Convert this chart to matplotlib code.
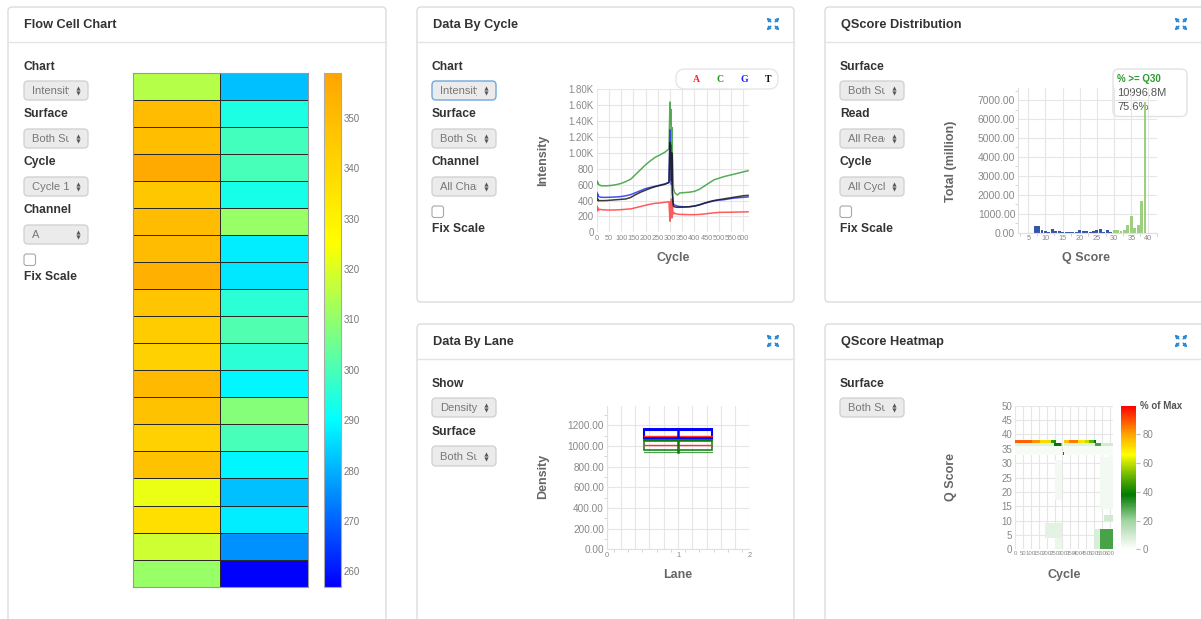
import numpy as np
import matplotlib.pyplot as plt
from matplotlib.patches import FancyBboxPatch, Rectangle
from matplotlib.colors import LinearSegmentedColormap
from matplotlib.ticker import FuncFormatter, MultipleLocator
from matplotlib.transforms import Bbox, TransformedBbox

plt.rcParams['font.family'] = ['Liberation Sans', 'DejaVu Sans']

# ---- flow cell tile intensities (two surfaces x 19 swaths) ----
tile_left = [315, 350, 349, 357, 346, 350, 350, 355, 347, 344, 342, 351, 348, 342, 348, 322, 337, 318, 311]
tile_right = [282, 294, 299, 300, 293, 311, 288, 287, 296, 301, 296, 289, 308, 300, 289, 282, 288, 276, 257]

# ---- intensity by cycle, per channel ----
cycles = [1, 3, 5, 8, 12, 20, 40, 60, 80, 100, 120, 140, 160, 180, 200, 220, 240, 260, 280, 296,
          300, 302, 304, 306, 308, 310, 312, 314, 318, 322, 330, 340, 360, 380, 400, 420, 440, 460,
          480, 500, 520, 540, 560, 580, 600, 620]
int_a = [330, 270, 310, 280, 290, 285, 280, 280, 282, 285, 290, 295, 310, 325, 340, 355, 365, 370,
         378, 385, 140, 380, 200, 420, 180, 400, 250, 230, 245, 235, 228, 226, 224, 222, 222, 225,
         230, 238, 245, 250, 252, 252, 254, 255, 256, 258]
int_c = [645, 610, 630, 600, 595, 585, 585, 590, 600, 615, 640, 670, 730, 790, 850, 900, 945, 975,
         1010, 1050, 1640, 1350, 1550, 1050, 1320, 980, 800, 560, 510, 490, 470, 495, 500, 505, 515,
         540, 580, 620, 660, 680, 700, 715, 730, 745, 760, 775]
int_g = [500, 460, 480, 450, 445, 440, 440, 442, 445, 450, 460, 475, 500, 525, 550, 565, 580, 595,
         610, 625, 1290, 900, 1100, 600, 950, 500, 420, 360, 345, 340, 330, 325, 320, 322, 330, 345,
         365, 380, 395, 405, 410, 420, 430, 435, 440, 445]
int_t = [450, 400, 420, 395, 400, 398, 400, 405, 410, 415, 420, 440, 475, 505, 530, 555, 575, 590,
         605, 630, 1130, 800, 1000, 650, 1000, 500, 380, 330, 320, 318, 315, 315, 318, 322, 330, 345,
         365, 385, 400, 410, 420, 430, 440, 450, 460, 465]

# ---- q-score histogram (millions of bases) ----
q_scores = list(range(7, 40))
q_totals = [330, 350, 150, 100, 60, 170, 90, 70, 20, 30, 40, 60, 40, 130, 70, 90, 50, 110, 150,
            170, 30, 150, 40, 150, 120, 100, 160, 420, 870, 240, 430, 1680, 6900]

# ---- density by lane: (lo, q1, median, q3, hi) ----
lane_raw = [1068, 1075, 1100, 1158, 1162]
lane_pf = [942, 960, 1005, 1048, 1057]

# ---- q-score heatmap blocks: (cycle_from, cycle_to, q_from, q_to, % of max) ----
heat_blocks = [
    (0, 300, 33, 36, 2), (311, 618, 33, 36, 2),
    (0, 245, 36, 37, 7), (311, 505, 36, 37, 7), (545, 618, 36, 37, 9),
    (2, 110, 37, 38, 88), (110, 160, 37, 38, 82), (160, 200, 37, 38, 72), (200, 230, 37, 38, 62),
    (230, 245, 37, 38, 45), (245, 260, 37, 38, 35), (245, 290, 36, 37, 38), (290, 300, 36, 37, 25),
    (311, 340, 37, 38, 75), (340, 400, 37, 38, 85), (400, 440, 37, 38, 70), (440, 470, 37, 38, 60),
    (470, 500, 37, 38, 50), (500, 515, 37, 38, 38), (505, 545, 36, 37, 30),
    (0, 3, 33, 34, 100), (304, 311, 33, 34, 100),
    (190, 300, 4, 9, 6), (250, 300, 0, 4, 4),
    (500, 540, 0, 7, 8), (540, 618, 0, 7, 30), (560, 618, 10, 12, 10),
    (540, 618, 14, 32, 3), (250, 300, 17, 31, 3),
]

W, H = 1201, 619
fig = plt.figure(figsize=(W / 100, H / 100), dpi=100)
fig.patch.set_facecolor('white')


def px_axes(x0, y0, x1, y1):
    return fig.add_axes([x0 / W, 1 - y1 / H, (x1 - x0) / W, (y1 - y0) / H])


bg = fig.add_axes([0, 0, 1, 1])
bg.set_xlim(0, W)
bg.set_ylim(H, 0)
bg.axis('off')

TXT = '#333333'
AXL = '#666666'
TCK = '#888888'


def panel(x0, y0, x1, y1, title, sep):
    bg.add_patch(FancyBboxPatch((x0, y0), x1 - x0, y1 - y0, boxstyle='round,pad=0,rounding_size=4',
                                fc='white', ec='#dcdcdc', lw=1))
    bg.plot([x0, x1], [sep, sep], color='#e4e4e4', lw=1)
    bg.text(x0 + 16, (y0 + sep) / 2 + 0.5, title, fontsize=9.2, fontweight='bold', color=TXT,
            va='center', ha='left')


def label(x, y, s):
    bg.text(x, y, s, fontsize=8.7, fontweight='bold', color=TXT, va='center', ha='left')


def select(x0, y0, x1, y1, s, focused=False):
    bg.add_patch(FancyBboxPatch((x0, y0), x1 - x0, y1 - y0, boxstyle='round,pad=0,rounding_size=4',
                                fc='#ebebeb', ec='#6fa8e0' if focused else '#d2d2d2', lw=1))
    cy = (y0 + y1) / 2
    t = bg.text(x0 + 8, cy + 0.5, s, fontsize=8, color='#777777', va='center', ha='left')
    # long option names are cut off before the arrows
    t.set_clip_on(True)
    t.set_clip_box(TransformedBbox(Bbox([[x0, y0], [x1 - 19, y1]]), bg.transData))
    bg.plot(x1 - 10, cy - 2.5, marker='^', ms=3, color='#555555', mew=0)
    bg.plot(x1 - 10, cy + 2.5, marker='v', ms=3, color='#555555', mew=0)


def checkbox(x, y):
    bg.add_patch(FancyBboxPatch((x, y), 11.5, 11.5, boxstyle='round,pad=0,rounding_size=2.5',
                                fc='white', ec='#a8a8a8', lw=0.8))


def expand_icon(cx, cy, s=6.5):
    for dx, dy in [(-1, -1), (1, -1), (-1, 1), (1, 1)]:
        bg.annotate('', xy=(cx + dx * s, cy + dy * s), xytext=(cx + dx * 2.2, cy + dy * 2.2),
                    arrowprops=dict(arrowstyle='-|>', color='#2b8ad8', lw=1.1,
                                    mutation_scale=5, shrinkA=0, shrinkB=0))


# panels
panel(8, 7, 386, 650, 'Flow Cell Chart', 42)
panel(417, 7, 794, 302, 'Data By Cycle', 42)
panel(825, 7, 1215, 302, 'QScore Distribution', 42)
panel(417, 324, 794, 650, 'Data By Lane', 359)
panel(825, 324, 1215, 650, 'QScore Heatmap', 359)
for cx, cy in [(773, 24), (1181, 24), (773, 341), (1181, 341)]:
    expand_icon(cx, cy)

# flow cell controls
label(24, 67, 'Chart'); select(24, 81, 88, 100, 'Intensity')
label(24, 114, 'Surface'); select(24, 129, 88, 148, 'Both Surfaces')
label(24, 162, 'Cycle'); select(24, 177, 88, 196, 'Cycle 1')
label(24, 210, 'Channel'); select(24, 225, 88, 244, 'A')
checkbox(24, 254); label(24, 277, 'Fix Scale')

# data by cycle controls
label(432, 67, 'Chart'); select(432, 81, 496, 100, 'Intensity', focused=True)
label(432, 114, 'Surface'); select(432, 129, 496, 148, 'Both Surfaces')
label(432, 162, 'Channel'); select(432, 177, 496, 196, 'All Channels')
checkbox(432, 206); label(432, 229, 'Fix Scale')

# q-score distribution controls
label(840, 67, 'Surface'); select(840, 81, 904, 100, 'Both Surfaces')
label(840, 114, 'Read'); select(840, 129, 904, 148, 'All Reads')
label(840, 162, 'Cycle'); select(840, 177, 904, 196, 'All Cycles')
checkbox(840, 206); label(840, 229, 'Fix Scale')

# lane controls
label(432, 384, 'Show'); select(432, 398, 496, 417, 'Density')
label(432, 432, 'Surface'); select(432, 446, 496, 466, 'Both Surfaces')

# heatmap controls
label(840, 384, 'Surface'); select(840, 398, 904, 417, 'Both Surfaces')


def grid_axes(ax):
    ax.set_facecolor('none')
    for s in ax.spines.values():
        s.set_visible(False)
    ax.grid(True, which='major', color='#e6e6e6', lw=0.8)
    ax.set_axisbelow(True)
    ax.tick_params(colors=TCK, length=0, pad=2)


# ---- flow cell heatmap ----
fc_cmap = LinearSegmentedColormap.from_list(
    'fc', [(0.0, '#0000ff'), (33 / 102, '#00ffff'), (68 / 102, '#ffff00'), (1.0, '#ffa500')])
ax_fc = px_axes(133, 72.5, 307.5, 586.7)
tiles = np.column_stack([tile_left, tile_right])
mesh = ax_fc.pcolormesh(tiles, cmap=fc_cmap, vmin=257, vmax=359, edgecolors='#2a2a2a', lw=0.7)
ax_fc.set_ylim(len(tile_left), 0)
ax_fc.set_xticks([])
ax_fc.set_yticks([])
for s in ax_fc.spines.values():
    s.set_color('#999999')
cax = px_axes(324, 72.5, 341, 586.5)
cb = fig.colorbar(mesh, cax=cax, ticks=range(260, 351, 10))
cb.outline.set_edgecolor('#aaaaaa')
cb.outline.set_linewidth(0.8)
cax.tick_params(length=0, labelsize=7, labelcolor='#777777', pad=2)

# ---- data by cycle ----
ax_c = px_axes(596.7, 89.3, 749.3, 232.3)
grid_axes(ax_c)
for vals, col in [(int_a, '#ff4040'), (int_c, '#3a9e3a'), (int_g, '#2233ee'), (int_t, '#1a1a1a')]:
    ax_c.plot(cycles, vals, color=col, lw=1.1, alpha=0.85)
ax_c.set_xlim(0, 625)
ax_c.set_ylim(0, 1800)
ax_c.set_xticks(range(0, 601, 50))
ax_c.set_yticks(range(0, 1801, 200))
ax_c.yaxis.set_major_formatter(FuncFormatter(lambda v, p: f'{v / 1000:.2f}K' if v >= 1000 else f'{v:.0f}'))
ax_c.tick_params(axis='x', labelsize=5.3)
ax_c.tick_params(axis='y', labelsize=7)
bg.text(542.7, 160, 'Intensity', rotation=90, fontsize=9, fontweight='bold', color=AXL, ha='center', va='center')
bg.text(673, 258.3, 'Cycle', fontsize=9, fontweight='bold', color=AXL, ha='center', va='center')
bg.add_patch(FancyBboxPatch((676, 69), 102, 20, boxstyle='round,pad=0,rounding_size=9',
                            fc='white', ec='#e6e6e6', lw=1))
for x, ch, col in [(696, 'A', '#ff2020'), (720, 'C', '#1f9a1f'), (744, 'G', '#2020ff'), (767.7, 'T', '#111111')]:
    bg.text(x, 79.5, ch, fontsize=7, fontweight='bold', family='Liberation Serif', color=col, ha='center', va='center')

# ---- q-score distribution ----
ax_q = px_axes(1018, 88.3, 1157, 232.7)
grid_axes(ax_q)
q_cols = ['#3355aa' if q < 30 else '#9ccf80' for q in q_scores]
ax_q.bar(q_scores, q_totals, width=0.85, color=q_cols)
ax_q.set_xlim(2, 42.5)
ax_q.set_ylim(0, 7620)
ax_q.set_xticks(range(5, 41, 5))
ax_q.set_yticks(range(0, 7001, 1000))
ax_q.yaxis.set_minor_locator(MultipleLocator(500))
ax_q.xaxis.set_minor_locator(MultipleLocator(2.5))
ax_q.yaxis.set_major_formatter(FuncFormatter(lambda v, p: f'{v:.2f}'))
ax_q.tick_params(axis='x', labelsize=5.3)
ax_q.tick_params(axis='y', labelsize=7.5)
ax_q.tick_params(which='minor', length=2, color='#cccccc')
ax_q.spines['left'].set_visible(True)
ax_q.spines['left'].set_color('#e0e0e0')
ax_q.spines['bottom'].set_visible(True)
ax_q.spines['bottom'].set_color('#e0e0e0')
bg.text(950.7, 161.7, 'Total (million)', rotation=90, fontsize=9, fontweight='bold', color=AXL, ha='center', va='center')
bg.text(1086, 258.3, 'Q Score', fontsize=9, fontweight='bold', color=AXL, ha='center', va='center')
bg.add_patch(FancyBboxPatch((1113, 69), 74, 47.5, boxstyle='round,pad=0,rounding_size=6',
                            fc=(1, 1, 1, 0.92), ec='#e2e2e2', lw=1))
bg.text(1117, 79, '% >= Q30', fontsize=7, fontweight='bold', color='#2a9a2a', va='center')
bg.text(1117, 93.3, '10996.8M', fontsize=8, color='#555555', va='center')
bg.text(1117, 107.3, '75.6%', fontsize=8, color='#555555', va='center')

# ---- data by lane ----
ax_l = px_axes(606.7, 405.7, 749.3, 549.3)
grid_axes(ax_l)
for stats, col, lw in [(lane_raw, '#0000ff', 1.5), (lane_pf, '#0a7a0a', 1.1)]:
    lo, q1, med, q3, hi = stats
    ax_l.add_patch(Rectangle((0.52, q1), 0.96, q3 - q1, fill=False, ec=col, lw=lw))
    ax_l.plot([0.52, 1.48], [med, med], color='#ff3030', lw=1)
    ax_l.plot([1, 1], [lo, hi], color=col, lw=1.8)
    ax_l.plot([0.52, 1.48], [lo, lo], color=col, lw=0.9, alpha=0.7)
    ax_l.plot([0.52, 1.48], [hi, hi], color=col, lw=1.4)
ax_l.set_xlim(0, 2)
ax_l.set_ylim(0, 1390)
ax_l.set_xticks(np.arange(0, 2.01, 0.2))
ax_l.set_xticklabels(['0', '', '', '', '', '1', '', '', '', '', '2'])
ax_l.xaxis.set_minor_locator(MultipleLocator(0.1))
ax_l.set_yticks(range(0, 1201, 200))
ax_l.yaxis.set_minor_locator(MultipleLocator(100))
ax_l.yaxis.set_major_formatter(FuncFormatter(lambda v, p: f'{v:.2f}'))
ax_l.tick_params(axis='x', labelsize=5.3)
ax_l.tick_params(axis='y', labelsize=7.2)
ax_l.tick_params(which='minor', length=2, color='#cccccc')
ax_l.spines['left'].set_visible(True)
ax_l.spines['left'].set_color('#e0e0e0')
ax_l.spines['bottom'].set_visible(True)
ax_l.spines['bottom'].set_color('#e0e0e0')
bg.text(542.7, 476.7, 'Density', rotation=90, fontsize=9, fontweight='bold', color=AXL, ha='center', va='center')
bg.text(678, 575, 'Lane', fontsize=9, fontweight='bold', color=AXL, ha='center', va='center')

# ---- q-score heatmap ----
n_cyc, n_q = 618, 50
heat = np.zeros((n_q, n_cyc))
for c0, c1, q0, q1, pct in heat_blocks:
    heat[q0:q1, c0:c1] = pct
heat = np.ma.masked_equal(heat, 0)
qh_cmap = LinearSegmentedColormap.from_list(
    'qh', [(0.0, '#ffffff'), (0.2, '#9fd49f'), (0.38, '#007a00'), (0.5, '#60b000'),
           (0.66, '#ffff00'), (0.8, '#ffa500'), (1.0, '#ff0000')])
ax_h = px_axes(1015, 405.7, 1112.7, 549.3)
grid_axes(ax_h)
hm = ax_h.pcolormesh(np.arange(n_cyc + 1), np.arange(n_q + 1), heat, cmap=qh_cmap, vmin=0, vmax=100)
ax_h.set_xlim(0, n_cyc)
ax_h.set_ylim(0, 50)
ax_h.set_xticks(range(0, 601, 50))
ax_h.set_yticks(range(0, 51, 5))
ax_h.tick_params(axis='x', labelsize=4.3, pad=1)
ax_h.tick_params(axis='y', labelsize=7)
ax_h.grid(True, color='#e6e6e6', lw=0.8)
bg.text(950.7, 476.7, 'Q Score', rotation=90, fontsize=9, fontweight='bold', color=AXL, ha='center', va='center')
bg.text(1063.7, 575, 'Cycle', fontsize=9, fontweight='bold', color=AXL, ha='center', va='center')
cax_h = px_axes(1121, 405.7, 1136, 549.3)
cbh = fig.colorbar(hm, cax=cax_h, ticks=range(0, 81, 20))
cbh.outline.set_visible(False)
cax_h.tick_params(length=3, width=0.8, color='#bbbbbb', labelsize=7, labelcolor='#888888', pad=2)
bg.text(1140, 405.7, '% of Max', fontsize=7, fontweight='bold', color='#555555', va='center')

fig.savefig('out.png', dpi=100)
